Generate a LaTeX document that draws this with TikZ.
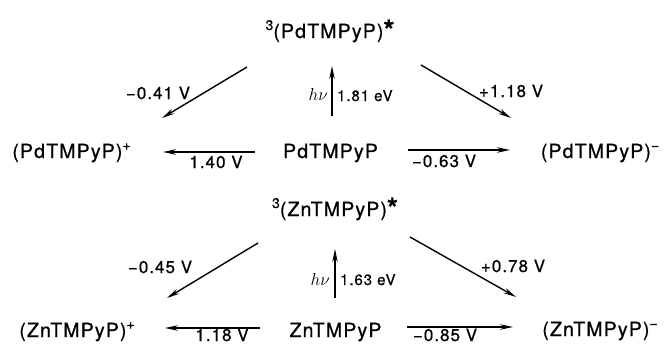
\documentclass[tikz,border=0pt]{standalone}
\usepackage{fontspec}
\setmainfont{TeX Gyre Heros}[LetterSpace=6, FakeBold=0.8]
\usetikzlibrary{arrows.meta}

% small raised numerals / charges beside the species names
\newcommand\spinsup[1]{\raisebox{8pt}{\fontsize{14}{14}\selectfont #1}}
\newcommand\chargesup[1]{\raisebox{8pt}{\fontsize{14}{14}\selectfont #1}}
\newcommand\excited{\raisebox{-2pt}{\fontsize{28}{28}\selectfont\bfseries *}}

\begin{document}
\begin{tikzpicture}[x=1pt,y=-1pt,
  species/.style={anchor=base, inner sep=0pt, font=\fontsize{19.5}{21}\selectfont},
  potential/.style={anchor=base, inner sep=0pt, font=\fontsize{17}{19}\selectfont},
  energy/.style={inner sep=0pt, font=\fontsize{15}{17}\selectfont},
  photon/.style={inner sep=0pt, font=\fontsize{19}{21}\selectfont},
  rxn/.style={line width=1.4pt, -{Stealth[length=13pt,width=5.5pt]}},
]
\useasboundingbox (0,0) rectangle (666,345);

% ---------------- Pd porphyrin ----------------
\node[species] (pdstar) at (330,38)  {\spinsup{3}(PdTMPyP)\excited};
\node[species] (pdox)   at (71.5,158) {(PdTMPyP)\chargesup{+}};
\node[species] (pd)     at (330.5,158) {PdTMPyP};
\node[species] (pdred)  at (600,158) {(PdTMPyP)\chargesup{−}};

\coordinate (pdA1) at (247,67);  \coordinate (pdA2) at (162,118);
\coordinate (pdB1) at (421,65);  \coordinate (pdB2) at (511,118);
\coordinate (pdH1) at (332,116); \coordinate (pdH2) at (332,66);
\coordinate (pdL1) at (255,152); \coordinate (pdL2) at (163,152);
\coordinate (pdR1) at (408,150); \coordinate (pdR2) at (510,150);

\draw[rxn] (pdA1) -- (pdA2);
\draw[rxn] (pdB1) -- (pdB2);
\draw[rxn] (pdH1) -- (pdH2);
\draw[rxn] (pdL1) -- (pdL2);
\draw[rxn] (pdR1) -- (pdR2);

\node[potential] (pdAl) at (158,99)  {−0.41 V};
\node[potential] (pdBl) at (511,97)  {+1.18 V};
\node[potential] (pdLl) at (216,168) {1.40 V};
\node[potential] (pdRl) at (444,167) {−0.63 V};
\node[photon, anchor=base east] (pdHv) at (328,100) {$h\nu$};
\node[energy, anchor=base west] (pdHe) at (337,101) {1.81 eV};

% ---------------- Zn porphyrin ----------------
\node[species] (znstar) at (335,216)  {\spinsup{3}(ZnTMPyP)\excited};
\node[species] (znox)   at (77,337)   {(ZnTMPyP)\chargesup{+}};
\node[species] (zn)     at (335.5,337) {ZnTMPyP};
\node[species] (znred)  at (600,336)  {(ZnTMPyP)\chargesup{−}};

\coordinate (znA1) at (258,243); \coordinate (znA2) at (167,298);
\coordinate (znB1) at (410,237); \coordinate (znB2) at (516,297);
\coordinate (znH1) at (335,298); \coordinate (znH2) at (335,249);
\coordinate (znL1) at (260,328); \coordinate (znL2) at (165,328);
\coordinate (znR1) at (407,327); \coordinate (znR2) at (513,327);

\draw[rxn] (znA1) -- (znA2);
\draw[rxn] (znB1) -- (znB2);
\draw[rxn] (znH1) -- (znH2);
\draw[rxn] (znL1) -- (znL2);
\draw[rxn] (znR1) -- (znR2);

\node[potential] (znAl) at (160,273) {−0.45 V};
\node[potential] (znBl) at (513,272) {+0.78 V};
\node[potential] (znLl) at (222,341) {1.18 V};
\node[potential] (znRl) at (445,341) {−0.85 V};
\node[photon, anchor=base east] (znHv) at (330,285) {$h\nu$};
\node[energy, anchor=base west] (znHe) at (340,285) {1.63 eV};
\end{tikzpicture}
\end{document}
